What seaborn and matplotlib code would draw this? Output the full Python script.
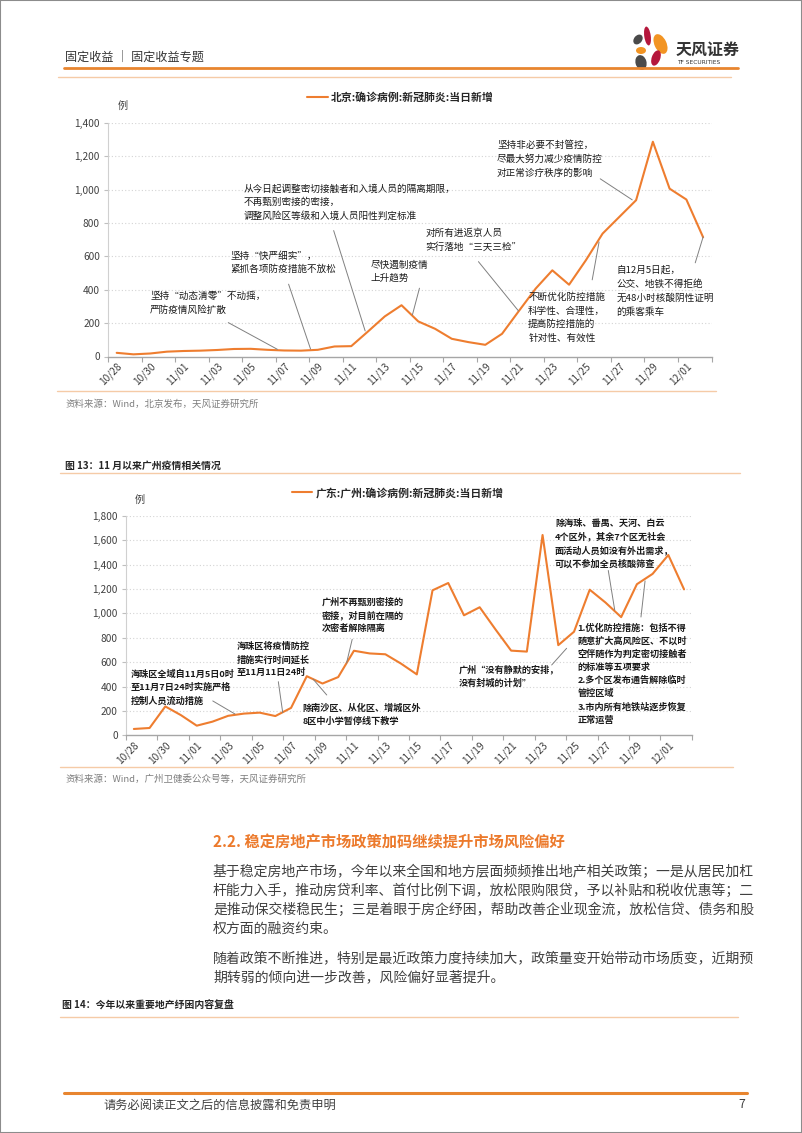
import numpy as np
import pandas as pd
import matplotlib
matplotlib.use("Agg")
import matplotlib.pyplot as plt
import seaborn as sns
from matplotlib.lines import Line2D
from matplotlib.patches import Ellipse, Rectangle

# ---------------- data ----------------
dates = pd.date_range("2022-10-28", "2022-12-02", freq="D")
tick_labels = ["10/28", "10/30", "11/01", "11/03", "11/05", "11/07", "11/09",
               "11/11", "11/13", "11/15", "11/17", "11/19", "11/21", "11/23",
               "11/25", "11/27", "11/29", "12/01"]
beijing_cases = [22, 13, 18, 29, 33, 35, 39, 45, 46, 40,
                 36, 35, 40, 60, 62, 150, 240, 307, 210, 166,
                 106, 86, 70, 136, 272, 406, 516, 430, 576, 736,
                 836, 936, 1286, 1005, 940, 714]
guangzhou_cases = [52, 60, 237, 165, 79, 112, 160, 178, 186, 158,
                   225, 485, 425, 478, 694, 672, 665, 588, 500, 1190,
                   1250, 985, 1051, 870, 695, 687, 1644, 740, 850, 1195,
                   1090, 970, 1240, 1325, 1480, 1198]
beijing_label = "北京:确诊病例:新冠肺炎:当日新增"
guangzhou_label = "广东:广州:确诊病例:新冠肺炎:当日新增"
beijing_yticks = [0, 200, 400, 600, 800, 1000, 1200, 1400]
guangzhou_yticks = [0, 200, 400, 600, 800, 1000, 1200, 1400, 1600, 1800]

# annotations: text, text anchor (pos, value), leader start, leader end
beijing_notes = [
    ("坚持“动态清零”不动摇，\n严防疫情风险扩散", (2.50, 319), (7.16, 203), (10.09, 43)),
    ("坚持“快严细实”，\n紧抓各项防疫措施不放松", (7.27, 562), (10.76, 433), (12.07, 45)),
    ("从今日起调整密切接触者和入境人员的隔离期限，\n不再甄别密接的密接，\n调整风险区等级和入境人员阳性判定标准",
     (8.10, 924), (13.45, 754), (15.33, 153)),
    ("尽快遏制疫情\n上升趋势", (15.67, 505), (18.57, 409), (18.15, 249)),
    ("对所有进返京人员\n实行落地“三天三检”", (18.91, 698), (22.09, 568), (24.48, 273)),
    ("坚持非必要不封管控，\n尽最大努力减少疫情防控\n对正常诊疗秩序的影响", (23.2, 1182), (29.36, 1064), (31.27, 938)),
    ("不断优化防控措施\n科学性、合理性，\n提高防控措施的\n针对性、有效性", (25.06, 232), (28.88, 459), (29.29, 686)),
    ("自12月5日起，\n公交、地铁不得拒绝\n无48小时核酸阴性证明\n的乘客乘车", (30.31, 392), (35.03, 561), (35.5, 716)),
]
guangzhou_notes = [
    ("海珠区全域自11月5日0时\n至11月7日24时实施严格\n控制人员流动措施", (0.30, 391), (5.52, 282), (6.93, 175)),
    ("海珠区将疫情防控\n措施实行时间延长\n至11月11日24时", (7.04, 620), (9.69, 440), (9.97, 186)),
    ("除南沙区、从化区、增城区外\n8区中小学暂停线下教学", (11.22, 169), (12.77, 331), (11.91, 460)),
    ("广州不再甄别密接的\n密接，对目前在隔的\n次密者解除隔离", (12.48, 987), (14.39, 788), (14.03, 593)),
    ("广州“没有静默的安排，\n没有封城的计划”", (21.18, 484), (27.08, 577), (28.03, 714)),
    ("除海珠、番禺、天河、白云\n4个区外，其余7个区无社会\n面活动人员如没有外出需求，\n可以不参加全员核酸筛查",
     (27.29, 1572), (30.68, 1353), (31.09, 1028)),
    ("1.优化防控措施：包括不得\n随意扩大高风险区、不以时\n空伴随作为判定密切接触者\n的标准等五项要求\n2.多个区发布通告解除临时\n管控区域\n3.市内所有地铁站逐步恢复\n正常运营",
     (28.73, 502), (32.76, 971), (33.02, 1267)),
]

body_p1 = ["基于稳定房地产市场，今年以来全国和地方层面频频推出地产相关政策；一是从居民加杠",
           "杆能力入手，推动房贷利率、首付比例下调，放松限购限贷，予以补贴和税收优惠等；二",
           "是推动保交楼稳民生；三是着眼于房企纾困，帮助改善企业现金流，放松信贷、债务和股",
           "权方面的融资约束。"]
body_p2 = ["随着政策不断推进，特别是最近政策力度持续加大，政策量变开始带动市场质变，近期预",
           "期转弱的倾向进一步改善，风险偏好显著提升。"]

# ---------------- style ----------------
sns.set_theme(style="white")
plt.rcParams['font.family'] = ['Noto Sans CJK SC', 'DejaVu Sans']
plt.rcParams['axes.unicode_minus'] = False

W, H = 802, 1133
ORANGE = "#EE7D2F"
PEACH = "#F5CBA7"
DARK = "#262626"
GRAY_TXT = "#7F7F7F"

fig = plt.figure(figsize=(W / 100, H / 100), dpi=100)
fig.patch.set_facecolor("white")


def ftext(px, py, s, **kw):
    fig.text(px / W, 1 - py / H, s, **kw)


def hline(x0, x1, y, color, lw):
    fig.add_artist(Line2D([x0 / W, x1 / W], [1 - y / H, 1 - y / H],
                          color=color, lw=lw, transform=fig.transFigure))


def make_chart(rect, values, label, yticks, notes, legend_xy, note_weight, note_fs):
    ax = fig.add_axes(rect)
    df = pd.DataFrame({"pos": np.arange(len(values)) + 0.5, "cases": values})
    sns.lineplot(data=df, x="pos", y="cases", ax=ax, color=ORANGE, lw=1.5,
                 label=label)
    ax.set_xlim(0, 36)
    ax.set_ylim(yticks[0], yticks[-1])
    ax.set_xlabel("")
    ax.set_ylabel("")
    ax.set_yticks(yticks)
    ax.set_yticklabels([f"{v:,}" for v in yticks], fontsize=7.3, color="#404040")
    ax.set_xticks(np.arange(0, 37, 2))
    ax.set_xticklabels([""] * 19)
    ax.set_xticks(np.arange(len(tick_labels)) * 2 + 0.5, minor=True)
    ax.set_xticklabels(tick_labels, minor=True, rotation=45, ha="right",
                       rotation_mode="anchor", fontsize=7.3, color="#404040")
    ax.tick_params(axis="x", which="major", length=3.5, width=0.8, color="#A6A6A6",
                   direction="out", bottom=True)
    ax.tick_params(axis="x", which="minor", length=0, pad=3, bottom=True)
    ax.tick_params(axis="y", length=3, width=0.8, color="#BFBFBF", pad=3, left=True)
    for s in ["top", "right"]:
        ax.spines[s].set_visible(False)
    ax.spines["left"].set_color("#D0D0D0")
    ax.spines["left"].set_linewidth(0.8)
    ax.spines["bottom"].set_color("#A6A6A6")
    ax.spines["bottom"].set_linewidth(1.0)
    for v in yticks[1:]:
        ax.axhline(v, color="#D4D4D4", lw=0.8, ls=(0, (1, 2)), zorder=0)
    leg = ax.legend(loc="center", bbox_to_anchor=legend_xy, frameon=False,
                    handlelength=1.9, handletextpad=0.3,
                    prop={"size": 7.8, "weight": "bold"})
    for t in leg.get_texts():
        t.set_color(DARK)
    ax.text(0.016, legend_xy[1] - 0.032, "例", transform=ax.transAxes,
            fontsize=7.3, color="#404040", ha="left", va="center")
    for text, tpos, p0, p1 in notes:
        ax.text(tpos[0], tpos[1], text, ha="left", va="center", fontsize=note_fs,
                linespacing=1.55, color="#1A1A1A", weight=note_weight)
        ax.annotate("", xy=p1, xytext=p0,
                    arrowprops=dict(arrowstyle="-", color="#808080", lw=0.7,
                                    shrinkA=0, shrinkB=0))
    return ax


# ---------------- charts ----------------
make_chart([108.3 / W, 1 - 356.5 / H, 603.2 / W, 233.8 / H], beijing_cases,
           beijing_label, beijing_yticks, beijing_notes, (0.484, 1.106),
           "normal", 6.9)
make_chart([126 / W, 1 - 735.3 / H, 565.9 / W, 219.3 / H], guangzhou_cases,
           guangzhou_label, guangzhou_yticks, guangzhou_notes, (0.480, 1.106),
           "bold", 6.6)

# ---------------- page furniture ----------------
ftext(65, 57, "固定收益 │ 固定收益专题", fontsize=8.7, color="#333333", va="center")
hline(64, 738, 68, "#E8852F", 2.0)
hline(58, 731, 77, PEACH, 1.0)

# logo
lax = fig.add_axes([628 / W, 1 - 71 / H, 44 / W, 46 / H])
lax.set_xlim(628, 672)
lax.set_ylim(71, 25)
lax.axis("off")
for (cx, cy, w, h, ang, col) in [(647.5, 36, 6.5, 19, -8, "#B5173C"),
                                 (660.5, 44, 12, 21, -25, "#F29423"),
                                 (638, 39.5, 8, 11, 40, "#4A4A4A"),
                                 (641, 50.5, 10, 7, 0, "#F29423"),
                                 (641, 62.5, 11, 15, -15, "#4A4A4A"),
                                 (656, 58, 8.5, 16, 20, "#B5173C")]:
    lax.add_patch(Ellipse((cx, cy), w, h, angle=ang, color=col, lw=0))
ftext(676, 50, "天风证券", fontsize=11.5, weight="bold", color="#333333", va="center")
ftext(677, 63, "TF SECURITIES", fontsize=4.2, color="#333333", va="center",
      family="DejaVu Sans")

ftext(65, 404, "资料来源：Wind，北京发布，天风证券研究所", fontsize=6.8, color=GRAY_TXT, va="center")
hline(57, 716, 391, PEACH, 1.0)
ftext(65, 466, "图 13：11 月以来广州疫情相关情况", fontsize=7.1, color=DARK,
      weight="bold", va="center")
hline(60, 740, 473, PEACH, 1.0)
hline(60, 733, 767, PEACH, 1.0)
ftext(65, 779, "资料来源：Wind，广州卫健委公众号等，天风证券研究所", fontsize=6.8,
      color=GRAY_TXT, va="center")

ftext(213, 842, "2.2. 稳定房地产市场政策加码继续提升市场风险偏好", fontsize=11,
      color="#EC7A2C", va="center", weight="bold")
for i, line in enumerate(body_p1):
    ftext(213, 872 + 19 * i, line, fontsize=10, color="#404040", va="center")
for i, line in enumerate(body_p2):
    ftext(213, 958 + 19 * i, line, fontsize=10, color="#404040", va="center")
ftext(62, 1006, "图 14：今年以来重要地产纾困内容复盘", fontsize=7.1, color=DARK,
      weight="bold", va="center")
hline(60, 738, 1017, PEACH, 1.0)

hline(64, 747, 1093, "#E8852F", 2.2)
ftext(103, 1105, "请务必阅读正文之后的信息披露和免责申明", fontsize=8.8, color="#404040",
      va="center")
ftext(738, 1105, "7", fontsize=8.8, color="#404040", va="center")

fig.add_artist(Rectangle((0, 0), 1, 1, transform=fig.transFigure, fill=False,
                         edgecolor="#8C8C8C", lw=1.5))

fig.savefig("out.png", dpi=100)
